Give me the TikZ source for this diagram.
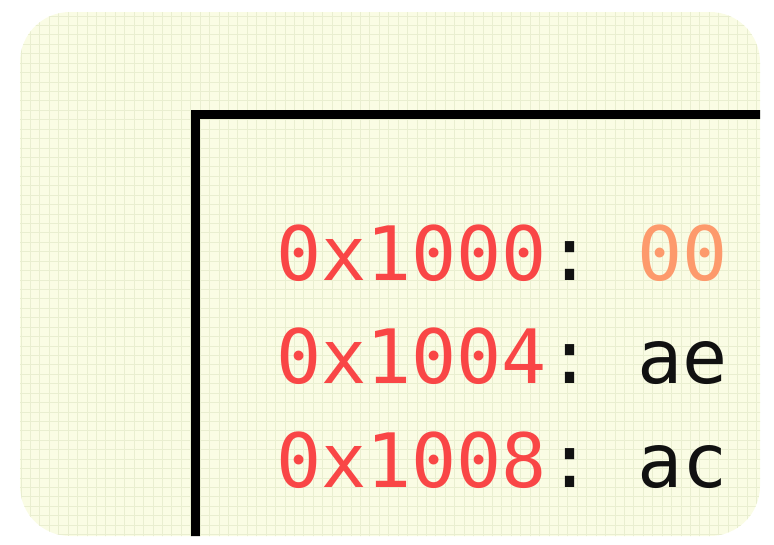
\documentclass[tikz,border=0pt]{standalone}
\usepackage{fontspec}
\newfontfamily\codefont{DejaVu Sans Mono}
\definecolor{bgfill}{HTML}{FAFCE4}
\definecolor{gridc}{HTML}{E9EED0}
\definecolor{addr}{HTML}{F94646}
\definecolor{hl}{HTML}{FD9A6C}
\definecolor{ink}{HTML}{111111}
\begin{document}
\begin{tikzpicture}[x=1pt,y=-1pt,
  codeline/.style={anchor=base west, inner sep=0pt, text=ink,
    font=\codefont\fontsize{75}{75}\selectfont\frenchspacing},
  gridline/.style={gridc, line width=1pt},
  frameline/.style={black, line width=9pt, line join=miter}]
\useasboundingbox (0,0) rectangle (774,544);
\begin{scope}
  \path[clip, rounded corners=50pt] (20,12) rectangle (760,536);
  \fill[bgfill] (0,0) rectangle (774,544);
  \foreach \i in {0,...,79} \draw[gridline] ({21+\i*9.43},0) -- ({21+\i*9.43},544);
  \foreach \j in {0,...,56} \draw[gridline] (0,{16+\j*9.43}) -- (774,{16+\j*9.43});
  \coordinate (fb) at (195,560);
  \coordinate (fc) at (195,114);
  \coordinate (fr) at (790,114);
  \draw[frameline] (fb) -- (fc) -- (fr);
\end{scope}
\node[codeline] (l1) at (276,280) {\textcolor{addr}{0x1000}:\ \textcolor{hl}{00}};
\node[codeline] (l2) at (276,383) {\textcolor{addr}{0x1004}:\ ae};
\node[codeline] (l3) at (276,487) {\textcolor{addr}{0x1008}:\ ac};
\end{tikzpicture}
\end{document}
